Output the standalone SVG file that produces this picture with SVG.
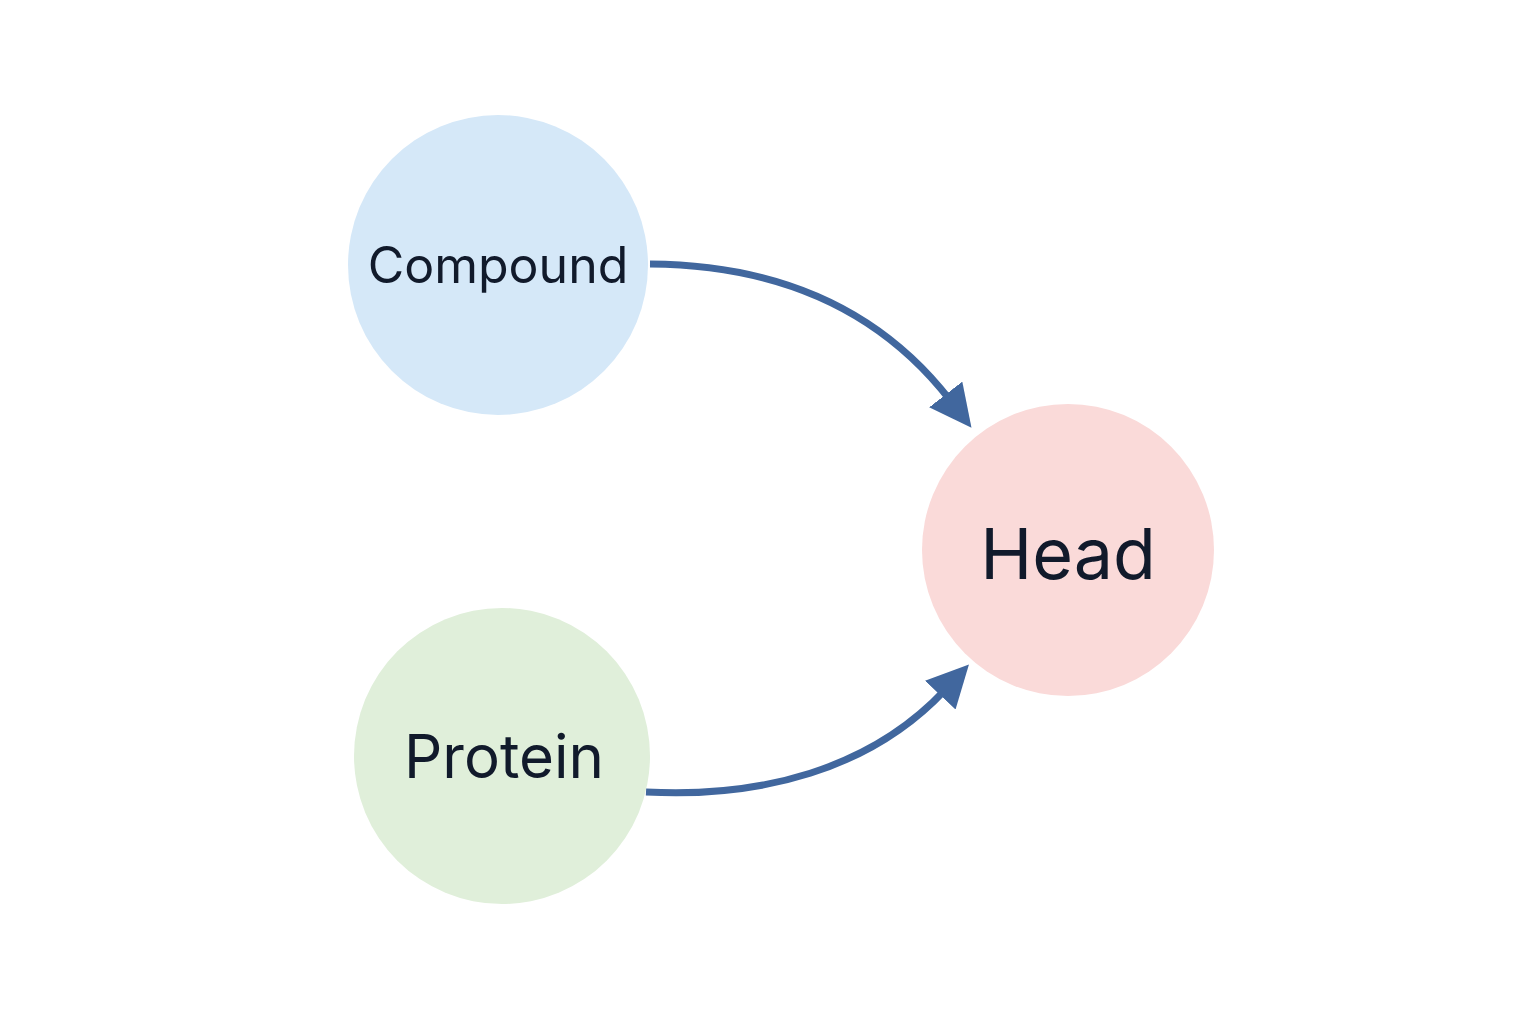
<svg xmlns="http://www.w3.org/2000/svg" width="1536" height="1024" viewBox="0 0 1536 1024">
<style>
text{font-family:Inter,"Liberation Sans",sans-serif;fill:#111a2b;text-anchor:middle;dominant-baseline:central}
.e{fill:none;stroke:#41679e;stroke-width:7}
</style>
<defs><marker id="a" markerWidth="6" markerHeight="6" refX="1" refY="3" orient="auto"><path d="M0,0L6,3L0,6z" fill="#41679e"/></marker></defs>
<rect width="1536" height="1024" fill="#fff"/>
<g id="compound"><circle cx="498" cy="265" r="150" fill="#d5e8f8"/><text x="498" y="265" font-size="50">Compound</text></g>
<g id="protein"><circle cx="502" cy="756" r="148" fill="#e0efda"/><text x="504" y="756" font-size="60">Protein</text></g>
<g id="head"><circle cx="1068" cy="550" r="146" fill="#fadad9"/><text x="1068" y="553" font-size="70">Head</text></g>
<g id="connectors">
<path class="e" d="M650,264 C780,265 880,310 950,400" marker-end="url(#a)"/>
<path class="e" d="M646,792 C760,798 870,770 945,690" marker-end="url(#a)"/>
</g>
</svg>
